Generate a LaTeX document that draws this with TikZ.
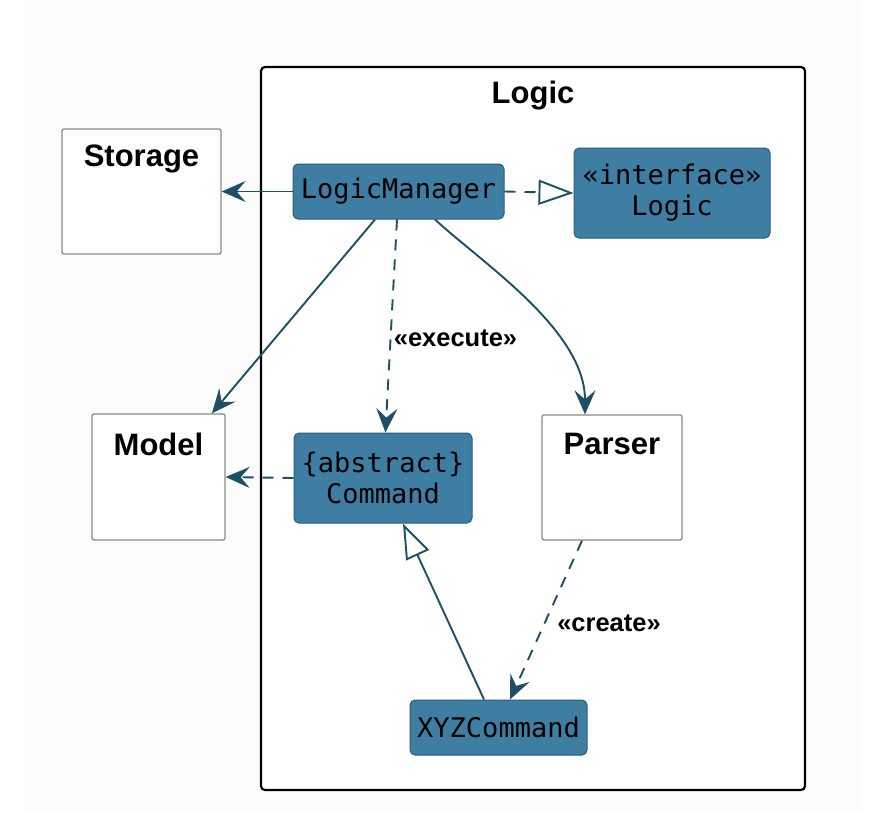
\documentclass[tikz,border=0pt]{standalone}
\usepackage{fontspec}
\setmainfont{Liberation Sans}
\newfontfamily\monof{DejaVu Sans Mono}
\usetikzlibrary{arrows.meta,calc}
\definecolor{boxblue}{HTML}{3D7EA2}
\definecolor{boxedge}{HTML}{2A5D78}
\definecolor{edgecol}{HTML}{1F4F65}
\definecolor{greyedge}{HTML}{8A8A8A}
\definecolor{bg}{HTML}{FCFCFC}
\begin{document}
\begin{tikzpicture}[x=1pt,y=-1pt,
  pkgbox/.style={draw=black,line width=2.2pt,rounded corners=4pt,fill=white,minimum width=544pt,minimum height=723pt,inner sep=0pt},
  compbox/.style={draw=greyedge,line width=1.3pt,rounded corners=2pt,fill=white,inner sep=0pt},
  classbox/.style={draw=boxedge,line width=1pt,rounded corners=5pt,fill=boxblue,inner sep=0pt,align=center,font=\monof\fontsize{27}{31}\selectfont},
  titletxt/.style={font=\bfseries\fontsize{31}{36}\selectfont,inner sep=0pt},
  lbltxt/.style={font=\bfseries\fontsize{25.5}{29}\selectfont,inner sep=0pt},
  conn/.style={draw=edgecol,line width=1.9pt},
  dep/.style={conn,dash pattern=on 11pt off 9pt},
  tip/.style={-{Stealth[length=24pt,width=21pt,inset=9pt]}},
  ext/.style={-{Triangle[open,length=35pt,width=25pt]}}
]
\useasboundingbox (0,0) rectangle (885,828);
\fill[white] (0,0) rectangle (885,828);
\fill[bg] (25,0) rectangle (862,812);

% package
\node[pkgbox] (pkg) at (533,428.5) {};
\node[titletxt] (pkgtitle) at ($(pkg.north)+(0,30)$) {Logic};

% external components
\node[compbox,minimum width=159pt,minimum height=125pt] (storage) at (141.5,191.5) {};
\node[titletxt] (storagetitle) at ($(storage.north)+(0,31)$) {Storage};
\node[compbox,minimum width=133pt,minimum height=126pt] (model) at (158.5,477) {};
\node[titletxt] (modeltitle) at ($(model.north)+(0,31)$) {Model};
\node[compbox,minimum width=140pt,minimum height=125pt] (parser) at (612,477.5) {};
\node[titletxt] (parsertitle) at ($(parser.north)+(0,30)$) {Parser};

% classes
\node[classbox,minimum width=211pt,minimum height=55pt] (lm) at (398.5,191.5) {LogicManager};
\node[classbox,minimum width=196pt,minimum height=90pt] (logic) at (672,193) {«interface»\\Logic};
\node[classbox,minimum width=178pt,minimum height=90pt] (cmd) at (383,478) {\{abstract\}\\Command};
\node[classbox,minimum width=177pt,minimum height=55pt] (xyz) at (498.5,727.5) {XYZCommand};

% connectors
\draw[conn,tip] (lm.west) -- (storage.east);
\draw[dep,ext] (lm.east) -- (logic.west);
\draw[conn,tip] (lm) -- (model);
\draw[dep,tip] (lm) -- (cmd);
\node[lbltxt] (execlbl) at (455.5,338) {«execute»};
\coordinate (lmse) at ($(lm.south)+(36.5,0)$);
\coordinate (parn) at ($(parser.north)+(-27,0)$);
\draw[conn,tip] (lmse) .. controls (482,263) and (585,330) .. (parn);
\draw[dep,tip] (cmd.west) -- (model.east);
\coordinate (xyzn1) at ($(xyz.north)+(-14.5,0)$);
\coordinate (cmds) at ($(cmd.south)+(20,0)$);
\draw[conn,ext] (xyzn1) -- (cmds);
\coordinate (pars) at ($(parser.south)+(-30,0)$);
\coordinate (xyzn2) at ($(xyz.north)+(11.5,0)$);
\draw[dep,tip] (pars) -- (xyzn2);
\node[lbltxt] (createlbl) at (609,623) {«create»};
\end{tikzpicture}
\end{document}
